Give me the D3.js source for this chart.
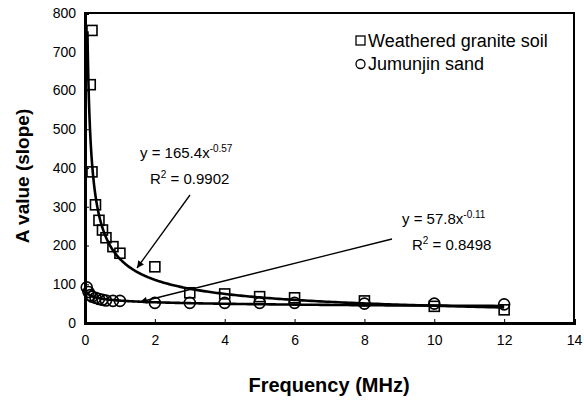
<!DOCTYPE html>
<html><head><meta charset="utf-8">
<script src="https://cdn.jsdelivr.net/npm/d3@7"></script>
<style>
html,body{margin:0;padding:0;background:#fff;}
text{font-family:"Liberation Sans",Arial,sans-serif;fill:#000;}
</style></head>
<body><svg id="c" width="584" height="407"></svg>
<script>
// ---- data ----
const xTicks = [0, 2, 4, 6, 8, 10, 12, 14];
const yTicks = [0, 100, 200, 300, 400, 500, 600, 700, 800];
const graniteFreq = [0.2, 0.15, 0.2, 0.3, 0.4, 0.5, 0.6, 0.8, 1.0, 2, 3, 4, 5, 6, 8, 10, 12];
const graniteA    = [755, 615, 390, 305, 265, 240, 220, 197, 180, 145, 78, 75, 68, 65, 57, 43, 34];
const jumFreq = [0.05, 0.1, 0.15, 0.2, 0.3, 0.4, 0.5, 0.6, 0.8, 1.0, 2, 3, 4, 5, 6, 8, 10, 12];
const jumA    = [92, 80, 72, 68, 65, 62, 60, 58, 57, 57, 52, 52, 52, 52, 52, 50, 50, 48];
const graniteFit = {a: 165.4, b: -0.57, r2: "0.9902", from: 0.07, to: 12};
const jumFit     = {a: 57.8,  b: -0.11, r2: "0.8498", from: 0.05, to: 12};
const legendLabels = ["Weathered granite soil", "Jumunjin sand"];

const svg = d3.select("#c");
const L = 85, R = 574, T = 13, B = 323;
const x = d3.scaleLinear().domain([0, 14]).range([L, R]);
const y = d3.scaleLinear().domain([0, 800]).range([B, T]);

// frame
svg.append("rect").attr("x", L).attr("y", T).attr("width", R - L).attr("height", B - T)
  .attr("fill", "none").attr("stroke", "#000").attr("stroke-width", 2);

// axes
const xAxis = d3.axisBottom(x).tickValues(xTicks).tickSize(-4).tickPadding(12).tickFormat(d3.format("d"));
const yAxis = d3.axisLeft(y).tickValues(yTicks).tickSize(-4).tickPadding(9).tickFormat(d3.format("d"));
const gx = svg.append("g").attr("transform", `translate(0,${B})`).call(xAxis);
const gy = svg.append("g").attr("transform", `translate(${L},0)`).call(yAxis);
[gx, gy].forEach(g => {
  g.select(".domain").attr("stroke", "#000").attr("stroke-width", 3);
  g.selectAll(".tick line").attr("stroke", "#000").attr("stroke-width", 1);
  g.selectAll(".tick text").attr("font-family", "Liberation Sans, Arial, sans-serif")
    .attr("font-size", 14).attr("fill", "#000");
});
gx.selectAll(".tick text").attr("dy", "0.71em");

// trendlines
function fitPts(f) {
  const xs = [];
  for (let i = 0; i <= 400; i++) {
    const t = i / 400;
    xs.push(Math.exp(Math.log(f.from) + t * (Math.log(f.to) - Math.log(f.from))));
  }
  return xs.map(v => [v, f.a * Math.pow(v, f.b)]);
}
const line = d3.line().x(d => x(d[0])).y(d => y(d[1]));
[graniteFit, jumFit].forEach(f => {
  svg.append("path").attr("d", line(fitPts(f))).attr("fill", "none")
    .attr("stroke", "#000").attr("stroke-width", 2.6);
});

// markers
const sq = 10;
svg.append("g").selectAll("rect").data(graniteFreq.map((f, i) => [f, graniteA[i]])).join("rect")
  .attr("x", d => x(d[0]) - sq / 2).attr("y", d => y(d[1]) - sq / 2)
  .attr("width", sq).attr("height", sq).attr("fill", "none").attr("stroke", "#000").attr("stroke-width", 1.6);
svg.append("g").selectAll("circle").data(jumFreq.map((f, i) => [f, jumA[i]])).join("circle")
  .attr("cx", d => x(d[0])).attr("cy", d => y(d[1])).attr("r", 5.5)
  .attr("fill", "none").attr("stroke", "#000").attr("stroke-width", 1.6);

// arrows
const defs = svg.append("defs");
defs.append("marker").attr("id", "ah").attr("viewBox", "0 0 10 10").attr("refX", 10).attr("refY", 5)
  .attr("markerWidth", 10).attr("markerHeight", 7).attr("markerUnits", "userSpaceOnUse").attr("orient", "auto")
  .append("path").attr("d", "M0,0 L10,5 L0,10 z").attr("fill", "#000");
svg.append("line").attr("x1", 190).attr("y1", 195).attr("x2", 137).attr("y2", 268)
  .attr("stroke", "#000").attr("stroke-width", 1.3).attr("marker-end", "url(#ah)");
svg.append("line").attr("x1", 392).attr("y1", 239).attr("x2", 140).attr("y2", 302)
  .attr("stroke", "#000").attr("stroke-width", 1.3).attr("marker-end", "url(#ah)");

// equations
function eq(xp, yp, f) {
  const t = svg.append("text").attr("x", xp).attr("y", yp).attr("font-size", 15);
  t.append("tspan").text(`y = ${f.a}x`);
  t.append("tspan").attr("dy", -6).attr("font-size", 10).text(`${f.b}`);
  const r = svg.append("text").attr("x", xp + 10).attr("y", yp + 26).attr("font-size", 15);
  r.append("tspan").text("R");
  r.append("tspan").attr("dy", -6).attr("font-size", 10).text("2");
  r.append("tspan").attr("dy", 6).text(` = ${f.r2}`);
}
eq(140, 158, graniteFit);
eq(402, 224, jumFit);

// legend
svg.append("rect").attr("x", 356).attr("y", 36).attr("width", 9).attr("height", 9)
  .attr("fill", "none").attr("stroke", "#000").attr("stroke-width", 1.3);
svg.append("text").attr("x", 368).attr("y", 47).attr("font-size", 18).text(legendLabels[0]);
svg.append("circle").attr("cx", 360.5).attr("cy", 64).attr("r", 4.5)
  .attr("fill", "none").attr("stroke", "#000").attr("stroke-width", 1.3);
svg.append("text").attr("x", 368).attr("y", 70).attr("font-size", 18).text(legendLabels[1]);

// axis titles
svg.append("text").attr("x", 329).attr("y", 392).attr("text-anchor", "middle")
  .attr("font-size", 20).attr("font-weight", "bold").text("Frequency (MHz)");
svg.append("text").attr("transform", "translate(29,176) rotate(-90)").attr("text-anchor", "middle")
  .attr("font-size", 19).attr("font-weight", "bold").text("A value (slope)");
</script></body></html>
